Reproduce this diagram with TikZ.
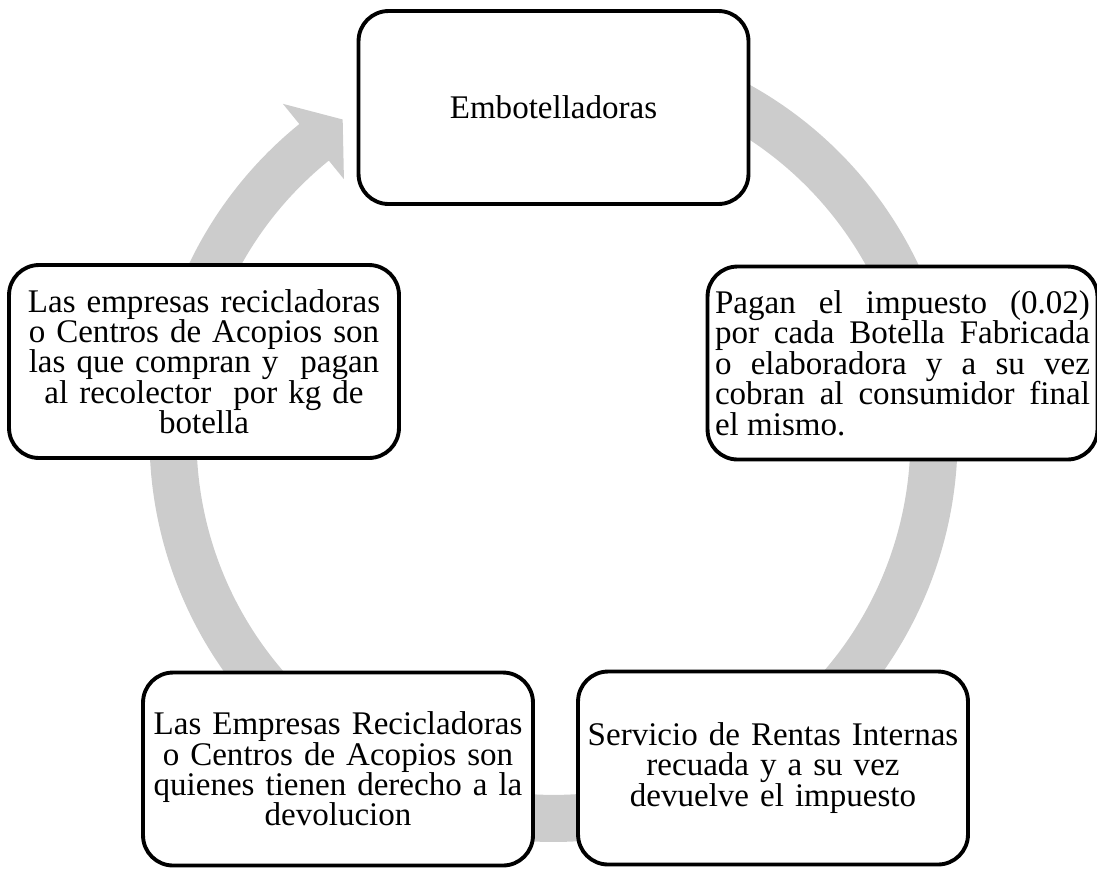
\documentclass[tikz,border=0pt]{standalone}
\usepackage{fontspec}
\setmainfont{Liberation Serif}
\usepackage{xcolor}
\usepackage{tikz}
\definecolor{ringgray}{RGB}{204,204,204}

\begin{document}
\begin{tikzpicture}[x=0.02cm, y=0.02cm,
    stagebox/.style={draw, line width=2.2pt, rounded corners=0.6cm, fill=white,
      minimum width=7.8cm, minimum height=3.86cm, inner sep=0.1cm,
      font=\fontsize{18.8}{17.3}\selectfont}]
    \useasboundingbox (0,0) rectangle (1097,-870);
    % ring arrow behind the boxes
    \begin{scope}[shift={(553.5,-438)}]
        \fill[ringgray] (70:404) arc[start angle=70, end angle=-231, radius=8.08cm]
            -- (-231:430) -- (-236.5:382) -- (-231:333) -- (-231:357)
            arc[start angle=-231, end angle=70, radius=7.14cm] -- cycle;
    \end{scope}
    \node[stagebox] (emb) at (553.5,-107.5) {Embotelladoras};
    \node[stagebox, text width=7.5cm, align=justify] (pagan) at (902.5,-363)
        {Pagan el impuesto (0.02)\linebreak por cada Botella Fabricada\linebreak
         o elaboradora y a su vez\linebreak cobran al consumidor final\linebreak el mismo.};
    \node[stagebox, text width=7.6cm, align=center] (sri) at (773,-768)
        {Servicio de Rentas Internas\\ recuada y a su vez\\ devuelve el impuesto};
    \node[stagebox, text width=7.6cm, align=center] (devol) at (338,-769)
        {Las Empresas Recicladoras\\ o Centros de Acopios son\\ quienes tienen derecho a la\\ devolucion};
    \node[stagebox, text width=7.6cm, align=center] (compra) at (204,-361.5)
        {Las empresas recicladoras\\ o Centros de Acopios son\\ las que compran y\ \ pagan\\ al recolector\ \ por kg de\\ botella};
\end{tikzpicture}
\end{document}
